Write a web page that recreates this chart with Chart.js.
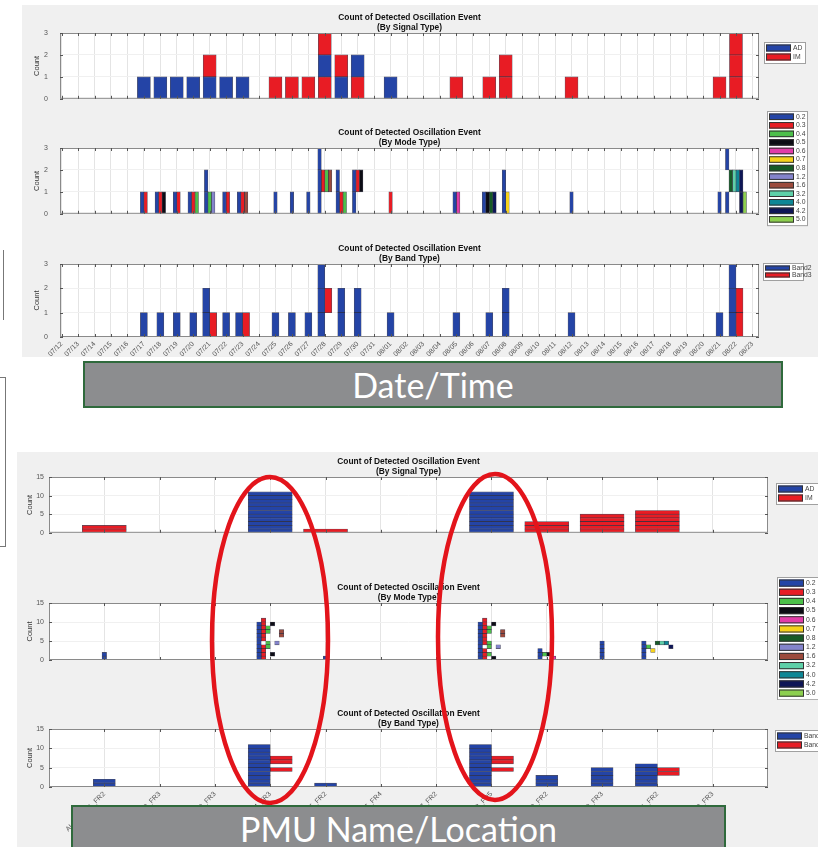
<!DOCTYPE html>
<html>
<head>
<meta charset="utf-8">
<title>Count of Detected Oscillation Event</title>
<script src="https://cdn.jsdelivr.net/npm/chart.js@4.4.1/dist/chart.umd.min.js"></script>
<style>
  html, body { margin: 0; padding: 0; background: #fff; }
  #page { position: relative; width: 818px; height: 847px; overflow: hidden; }
  .panel { position: absolute; background: #f0f0f0; }
  .banner { position: absolute; box-sizing: border-box; background: #8c8d8f; border: 2px solid #2f6a3c;
            color: #fff; font-family: Lato, "Open Sans", sans-serif; font-size: 34px; text-align: center; }
  canvas { position: absolute; }
  svg { position: absolute; left: 0; top: 0; }
</style>
</head>
<body>
<div id="page">
  <div class="panel" style="left:22px;top:5px;width:796px;height:352px"></div>
  <div class="panel" style="left:17px;top:452px;width:801px;height:395px"></div>
  <div style="position:absolute;left:-2px;top:250px;width:5px;height:70px;border-right:1px solid #777"></div>
  <div style="position:absolute;left:-2px;top:377px;width:6px;height:168px;border:1px solid #777"></div>
  <div id="charts"></div>
  <svg width="818" height="847">
    <ellipse cx="270" cy="640" rx="58" ry="163" fill="none" stroke="#e3141b" stroke-width="4.5"/>
    <ellipse cx="495" cy="637" rx="57" ry="163" fill="none" stroke="#e3141b" stroke-width="4.5"/>
  </svg>
  <div class="banner" style="left:83px;top:361px;width:700px;height:47px;line-height:43px">Date/Time</div>
  <div class="banner" style="left:71px;top:805px;width:655px;height:50px;line-height:44px">PMU Name/Location</div>
</div>
<script>
Chart.defaults.font.family = '"Liberation Sans", Arial, sans-serif';
Chart.defaults.font.size = 7;

// ---------- top: one entry per day ----------
const dates = ['07/12', '07/13', '07/14', '07/15', '07/16', '07/17', '07/18', '07/19', '07/20', '07/21',
  '07/22', '07/23', '07/24', '07/25', '07/26', '07/27', '07/28', '07/29', '07/30', '07/31',
  '08/01', '08/02', '08/03', '08/04', '08/05', '08/06', '08/07', '08/08', '08/09', '08/10',
  '08/11', '08/12', '08/13', '08/14', '08/15', '08/16', '08/17', '08/18', '08/19', '08/20',
  '08/21', '08/22', '08/23'];

// events of a day, bottom to top, split by '|'; items in one event split by ' '
const signalTypes = ['AD', 'IM'];
const signalByDay = {
  '07/17': 'AD', '07/18': 'AD', '07/19': 'AD', '07/20': 'AD', '07/21': 'AD|IM', '07/22': 'AD', '07/23': 'AD',
  '07/25': 'IM', '07/26': 'IM', '07/27': 'IM', '07/28': 'IM|AD|IM', '07/29': 'AD|IM', '07/30': 'IM|AD',
  '08/01': 'AD', '08/05': 'IM', '08/07': 'IM', '08/08': 'IM|IM', '08/12': 'IM', '08/21': 'IM', '08/22': 'IM|IM|IM'
};

const modeTypes = ['0.2', '0.3', '0.4', '0.5', '0.6', '0.7', '0.8', '1.2', '1.6', '3.2', '4.0', '4.2', '5.0'];
const modeByDay = {
  '07/17': '0.2 0.3', '07/18': '0.2 0.3 0.5', '07/19': '0.2 0.3', '07/20': '0.2 0.3 0.4',
  '07/21': '0.2 0.4 1.2|0.2', '07/22': '0.2 0.3', '07/23': '0.2 0.3 1.6',
  '07/25': '0.2', '07/26': '0.2', '07/27': '0.2', '07/28': '0.2|0.2 0.3 0.4 1.6|0.2',
  '07/29': '0.2 0.3 0.4|0.2', '07/30': '0.2|0.2 0.3 0.5', '08/01': '0.3',
  '08/05': '0.2 0.6', '08/07': '0.2 0.5 0.8 4.2', '08/08': '0.2 0.7|0.2', '08/12': '0.2',
  '08/21': '0.2', '08/22': '0.2 4.2 5.0|0.8 3.2 4.0 4.2|0.2'
};

const bandTypes = ['Band2', 'Band3'];
const bandByDay = {
  '07/17': 'Band2', '07/18': 'Band2', '07/19': 'Band2', '07/20': 'Band2', '07/21': 'Band2 Band3|Band2',
  '07/22': 'Band2', '07/23': 'Band2 Band3', '07/25': 'Band2', '07/26': 'Band2', '07/27': 'Band2',
  '07/28': 'Band2|Band2 Band3|Band2', '07/29': 'Band2|Band2', '07/30': 'Band2|Band2', '08/01': 'Band2',
  '08/05': 'Band2', '08/07': 'Band2', '08/08': 'Band2|Band2', '08/12': 'Band2', '08/21': 'Band2',
  '08/22': 'Band2 Band3|Band2 Band3|Band2'
};

// ---------- bottom: one entry per PMU ----------
const pmuNames = ['ALPMU_01_FR2', 'BSPMU_02_FR3', 'CHPMU_03_FR3', 'DVPMU_04_FR3', 'EKPMU_05_FR2', 'FLPMU_06_FR4',
  'GRPMU_07_FR2', 'HLPMU_08_FR5', 'JNPMU_09_FR2', 'KLPMU_10_FR3', 'LMPMU_11_FR2', 'MNPMU_12_FR3'];
const pmuAD = [0, 0, 0, 11, 0, 0, 0, 11, 0, 0, 0, 0];
const pmuIM = [2, 0, 0, 0, 1, 0, 0, 0, 3, 5, 6, 0];
const pmuModes = [
  '0.2|0.2', '', '',
  '0.2 0.3|0.2 0.3 0.5|0.2 0.3|0.2 0.3 0.4|0.2 0.4 1.2|0.2 0.3|0.2 0.3 1.6|0.2 0.3 0.4 1.6|0.2 0.3 0.4|0.2 0.3 0.5|0.3',
  '0.2', '', '',
  '0.2 0.3 0.5|0.2 0.3 0.4|0.2 0.3|0.2 0.4 1.2|0.2 0.3 0.4|0.2 0.3|0.2 0.3 1.6|0.2 0.3 0.4 1.6|0.2 0.3 0.4|0.2 0.3 0.5|0.3',
  '0.2 0.6|0.2 0.4 0.5|0.2', '0.2|0.2|0.2|0.2|0.2', '0.2|0.2|0.2 0.7|0.2 0.4 4.2|0.2 0.8 3.2 4.0', ''
];
const pmuBands = [
  'Band2|Band2', '', '',
  'Band2|Band2|Band2|Band2|Band2 Band3|Band2|Band2 Band3|Band2 Band3|Band2|Band2|Band2',
  'Band2', '', '',
  'Band2|Band2|Band2|Band2|Band2 Band3|Band2|Band2 Band3|Band2 Band3|Band2|Band2|Band2',
  'Band2|Band2|Band2', 'Band2|Band2|Band2|Band2|Band2', 'Band2|Band2|Band2|Band2 Band3|Band2 Band3|Band2', ''
];

const twoColors = ['#2444a6', '#e81c24'];
const modeColors = ['#2444a6', '#e81c24', '#4cc04a', '#0c0c14', '#e23ca8', '#f6d21a', '#165a26',
  '#8484cc', '#9c4a3c', '#5ed0a8', '#0e8796', '#0e1656', '#8ccf4e'];

// every event is its own little block [level, level+1]
function levelSets(events, types, colors, barWidth, oneSlot) {
  const rows = events.map(s => (s ? s.split('|').map(r => r.split(' ')) : []));
  const depth = Math.max(...rows.map(r => r.length));
  const sets = [];
  types.forEach((name, k) => {
    for (let lv = 0; lv < depth; lv++) {
      const data = rows.map(r => (r[lv] && r[lv].indexOf(name) >= 0 ? [lv, lv + 1] : null));
      if (!data.some(v => v)) continue;
      sets.push({
        label: name, data: data, stack: oneSlot ? 'all' : name,
        backgroundColor: colors[k], borderColor: 'rgba(20,20,40,0.75)', borderWidth: 0.6,
        borderSkipped: false, barThickness: barWidth, skipNull: true
      });
    }
  });
  return sets;
}

// matlab style frame, inward ticks, two line title and boxed legend
const matlabLook = {
  id: 'matlab',
  beforeDraw(chart) {
    const a = chart.chartArea, ctx = chart.ctx;
    ctx.save();
    ctx.fillStyle = '#fff';
    ctx.fillRect(a.left, a.top, a.right - a.left, a.bottom - a.top);
    ctx.restore();
  },
  afterDraw(chart, args, opts) {
    const a = chart.chartArea, ctx = chart.ctx;
    const sx = chart.scales.x, sy = chart.scales.y;
    ctx.save();
    ctx.strokeStyle = '#8a8a8a';
    ctx.lineWidth = 1;
    ctx.strokeRect(a.left + 0.5, a.top + 0.5, a.right - a.left - 1, a.bottom - a.top - 1);
    ctx.strokeStyle = '#555';
    ctx.beginPath();
    sx.ticks.forEach(t => {
      const px = Math.round(sx.getPixelForValue(t.value)) + 0.5;
      ctx.moveTo(px, a.top); ctx.lineTo(px, a.top + 3);
      ctx.moveTo(px, a.bottom); ctx.lineTo(px, a.bottom - 3);
    });
    sy.ticks.forEach(t => {
      const py = Math.round(sy.getPixelForValue(t.value)) + 0.5;
      ctx.moveTo(a.left, py); ctx.lineTo(a.left + 3, py);
      ctx.moveTo(a.right, py); ctx.lineTo(a.right - 3, py);
    });
    ctx.stroke();

    const cx = (a.left + a.right) / 2;
    ctx.fillStyle = '#111';
    ctx.font = 'bold 8.4px "Liberation Sans", Arial, sans-serif';
    ctx.textAlign = 'center';
    ctx.textBaseline = 'middle';
    ctx.fillText(opts.title[0], cx, a.top - 15.5);
    ctx.fillText(opts.title[1], cx, a.top - 5.5);

    const L = opts.legend;
    const x0 = a.right + L.dx, y0 = a.top + L.dy, h = L.row * L.items.length + 3;
    ctx.fillStyle = '#fff';
    ctx.fillRect(x0, y0, L.w, h);
    ctx.strokeStyle = '#a0a0a0';
    ctx.strokeRect(x0 + 0.5, y0 + 0.5, L.w, h);
    ctx.font = '6.8px "Liberation Sans", Arial, sans-serif';
    ctx.textAlign = 'left';
    L.items.forEach((name, i) => {
      const ry = y0 + 1.5 + i * L.row;
      ctx.fillStyle = L.colors[i];
      ctx.fillRect(x0 + 2, ry + 1, 25, L.row - 2);
      ctx.strokeStyle = '#333';
      ctx.strokeRect(x0 + 2.5, ry + 1.5, 24, L.row - 3);
      ctx.fillStyle = '#444';
      ctx.fillText(name, x0 + 29, ry + L.row / 2);
    });
    ctx.restore();
  }
};
Chart.register(matlabLook);

function drawPanel(box, plot, setup) {
  const cv = document.createElement('canvas');
  cv.width = box.w;
  cv.height = box.h;
  cv.style.left = box.l + 'px';
  cv.style.top = box.t + 'px';
  document.getElementById('charts').appendChild(cv);
  const axisLeft = setup.yTitleX - 4.5;
  return new Chart(cv, {
    type: 'bar',
    data: { labels: setup.xs, datasets: setup.datasets },
    options: {
      responsive: false,
      animation: false,
      devicePixelRatio: 1,
      layout: {
        autoPadding: false,
        padding: { left: axisLeft - box.l, right: box.l + box.w - plot.r, top: plot.t - box.t, bottom: 0 }
      },
      plugins: {
        legend: { display: false },
        tooltip: { enabled: false },
        matlab: { title: setup.title, legend: setup.legend }
      },
      scales: {
        x: {
          type: 'linear', bounds: 'data', min: setup.xMin, max: setup.xMax, offset: false,
          afterBuildTicks: s => { s.ticks = setup.xs.map(v => ({ value: v })); },
          afterFit: s => { s.height = box.t + box.h - plot.b; },
          grid: { color: '#e4e4e4', offset: false, drawTicks: false },
          border: { display: false },
          ticks: {
            display: !!setup.xLabel, autoSkip: false, minRotation: 45, maxRotation: 45, padding: 3,
            color: '#555', font: { size: 7 },
            callback: v => (setup.xLabel ? setup.xLabel(v) : '')
          }
        },
        y: {
          stacked: false, min: 0, max: setup.yMax,
          afterBuildTicks: s => { s.ticks = setup.yTicks.map(v => ({ value: v })); },
          afterFit: s => { s.width = plot.l - axisLeft; },
          grid: { color: '#f0f0f0', drawTicks: false },
          border: { display: false },
          ticks: { padding: setup.yPad, color: '#555', font: { size: 7 } },
          title: { display: true, text: 'Count', padding: 0, color: '#333', font: { size: 7.5 } }
        }
      }
    }
  });
}

const dayIdx = dates.map((d, i) => i);
const eventsOf = table => dates.map(d => table[d] || '');
const title = kind => ['Count of Detected Oscillation Event', '(By ' + kind + ' Type)'];

drawPanel({ l: 22, t: 5, w: 796, h: 110 }, { l: 60, r: 759, t: 33, b: 106 }, {
  xs: dayIdx, xMin: -0.1, xMax: 42.4, yMax: 3, yTicks: [0, 1, 2, 3], yPad: 12, yTitleX: 37,
  datasets: levelSets(eventsOf(signalByDay), signalTypes, twoColors, 13, true),
  title: title('Signal'),
  legend: { items: signalTypes, colors: twoColors, dx: 5, dy: 9, w: 41, row: 9 }
});

drawPanel({ l: 22, t: 105, w: 796, h: 125 }, { l: 60, r: 759, t: 148, b: 222 }, {
  xs: dayIdx, xMin: -0.1, xMax: 42.4, yMax: 3, yTicks: [0, 1, 2, 3], yPad: 12, yTitleX: 37,
  datasets: levelSets(eventsOf(modeByDay), modeTypes, modeColors, 3.5, false),
  title: title('Mode'),
  legend: { items: modeTypes, colors: modeColors, dx: 8, dy: -37, w: 40, row: 8.55 }
});

drawPanel({ l: 22, t: 230, w: 796, h: 128 }, { l: 60, r: 759, t: 264, b: 337 }, {
  xs: dayIdx, xMin: -0.1, xMax: 42.4, yMax: 3, yTicks: [0, 1, 2, 3], yPad: 12, yTitleX: 37,
  datasets: levelSets(eventsOf(bandByDay), bandTypes, twoColors, 7, false),
  title: title('Band'),
  xLabel: v => dates[v],
  legend: { items: bandTypes, colors: twoColors, dx: 4, dy: -1, w: 40, row: 7 }
});

const pmuIdx = pmuNames.map((n, i) => i + 1);
const pmuSignal = pmuAD.map((n, i) => Array(n).fill('AD').concat(Array(pmuIM[i]).fill('IM')).join('|'));

drawPanel({ l: 17, t: 452, w: 801, h: 90 }, { l: 49, r: 768, t: 477, b: 535 }, {
  xs: pmuIdx, xMin: 0, xMax: 13, yMax: 15, yTicks: [0, 5, 10, 15], yPad: 5, yTitleX: 30,
  datasets: levelSets(pmuSignal, signalTypes, twoColors, 44, true),
  title: title('Signal'),
  legend: { items: signalTypes, colors: twoColors, dx: 8, dy: 6, w: 45, row: 9 }
});

drawPanel({ l: 17, t: 570, w: 801, h: 130 }, { l: 49, r: 768, t: 603, b: 660 }, {
  xs: pmuIdx, xMin: 0, xMax: 13, yMax: 15, yTicks: [0, 5, 10, 15], yPad: 5, yTitleX: 30,
  datasets: levelSets(pmuModes, modeTypes, modeColors, 4.5, false),
  title: title('Mode'),
  legend: { items: modeTypes, colors: modeColors, dx: 9, dy: -26, w: 42, row: 9.17 }
});

drawPanel({ l: 17, t: 697, w: 801, h: 150 }, { l: 49, r: 768, t: 729, b: 787 }, {
  xs: pmuIdx, xMin: 0, xMax: 13, yMax: 15, yTicks: [0, 5, 10, 15], yPad: 5, yTitleX: 30,
  datasets: levelSets(pmuBands, bandTypes, twoColors, 22, false),
  title: title('Band'),
  xLabel: v => pmuNames[v - 1],
  legend: { items: bandTypes, colors: twoColors, dx: 7, dy: 1, w: 48, row: 9 }
});
</script>
</body>
</html>
